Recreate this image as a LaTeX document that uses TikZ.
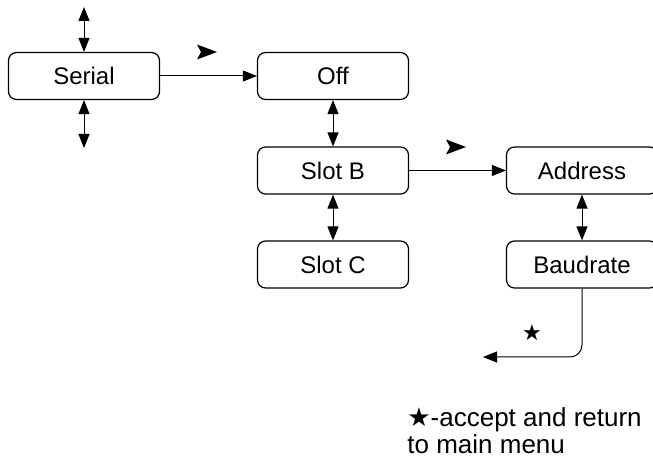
\documentclass[tikz,border=0pt]{standalone}
\usepackage{fontspec}
\setmainfont{Liberation Sans}
\newfontfamily\symfont{DejaVu Sans}
\usetikzlibrary{arrows.meta}
\tikzset{
	menubox/.style={draw, rounded corners=4pt, line width=0.6pt, minimum width=75.5pt, minimum height=23.5pt, inner sep=0pt},
	fwd/.style={line width=0.5pt, -{Triangle[length=7pt,width=5.5pt]}},
	dbl/.style={line width=0.5pt, {Triangle[length=7pt,width=5.5pt]}-{Triangle[length=7pt,width=5.5pt]}}
}
\def\gomark(#1){\fill[shift={(#1)}] (-10,-7.5) -- (10,0) -- (-10,7.5) -- (-6,0) -- cycle;}

\begin{document}
\begin{tikzpicture}[x=0.5pt, y=-0.5pt, font=\fontsize{12}{14}\selectfont]
		%%%%% START %%%%%
		\useasboundingbox (0, 0) rectangle (653, 464);
		
		\node[menubox] (serial) at (84, 76) {Serial};
		\node[menubox] (off) at (333, 76) {Off};
		\node[menubox] (slotb) at (333, 170.5) {Slot B};
		\node[menubox] (slotc) at (333, 264.5) {Slot C};
		\node[menubox] (address) at (582, 170.5) {Address};
		\node[menubox] (baud) at (582, 264.5) {Baudrate};
		
		\coordinate (sertop) at (84, 7);
		\coordinate (serbot) at (84, 148);
		\coordinate (back) at (483, 357);
		
		\draw[dbl] (serial.north) -- (sertop);
		\draw[dbl] (serial.south) -- (serbot);
		\draw[fwd] (serial) -- (off);
		\draw[dbl] (off) -- (slotb);
		\draw[dbl] (slotb) -- (slotc);
		\draw[fwd] (slotb) -- (address);
		\draw[dbl] (address) -- (baud);
		\draw[fwd, rounded corners=6pt] (baud.south) |- (back);
		
		\gomark(207, 52)
		\gomark(456, 147)
		
		\node (star) at (532, 333) {\symfont\fontsize{11}{13}\selectfont ★};
		
		\node[anchor=base west, inner sep=0pt, font=\fontsize{13}{15}\selectfont] (note1) at (407, 427) {{\symfont ★}-accept and return};
		\node[anchor=base west, inner sep=0pt, font=\fontsize{13}{15}\selectfont] (note2) at (407, 453) {to main menu};
		
		%%%%% END %%%%%
	\end{tikzpicture}
\end{document}
